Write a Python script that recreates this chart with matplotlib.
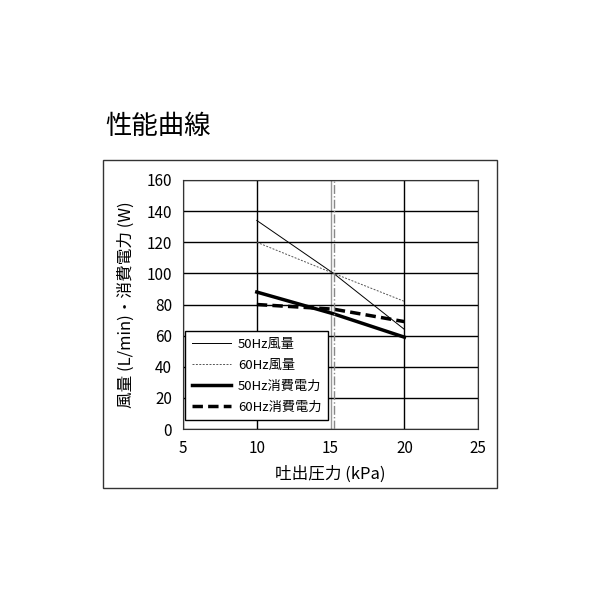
import matplotlib.pyplot as plt
from matplotlib.patches import Rectangle

plt.rcParams['font.family'] = ['Noto Sans CJK JP', 'DejaVu Sans']

# Data
pressure = [10, 15.2, 20]
air_50 = [134, 100, 64]
air_60 = [120, 100, 82]
power_50 = [88, 74, 59]
power_60 = [80, 77, 69]
ref_pressure = 15.2

fig = plt.figure(figsize=(6, 6), dpi=100)
ax = fig.add_axes([0.305, 0.285, 0.492, 0.415])

# outer frame
fig.patches.append(Rectangle((0.172, 0.187), 0.656, 0.546, transform=fig.transFigure,
                             fill=False, edgecolor='#333333', lw=1.0))

fig.text(0.175, 0.79, '性能曲線', fontsize=19, va='center', ha='left')

ax.plot(pressure, air_50, color='black', lw=0.7, label='50Hz風量')
ax.plot(pressure, air_60, color='#555555', lw=0.7, ls=(0, (2, 1.5)), label='60Hz風量')
ax.plot(pressure, power_50, color='black', lw=2.5, label='50Hz消費電力')
ax.plot(pressure, power_60, color='black', lw=2.5, ls=(0, (3, 1.5)), label='60Hz消費電力')
ax.axvline(ref_pressure, color='#888888', lw=1.0, ls='-.')

ax.set_xlim(5, 25)
ax.set_ylim(0, 160)
ax.set_xticks([5, 10, 15, 20, 25])
ax.set_yticks(range(0, 161, 20))
ax.grid(True, color='black', lw=1.0)
ax.set_axisbelow(True)
# the 15 kPa grid line is grey in the original
ax.get_xgridlines()[2].set_color('#999999')
ax.tick_params(length=0, labelsize=11, pad=8)
for s in ax.spines.values():
    s.set_color('#333333')

ax.set_xlabel('吐出圧力 (kPa)', fontsize=12, labelpad=6)
ax.set_ylabel('風量 (L/min)・消費電力 (W)', fontsize=12, labelpad=8)

leg = ax.legend(loc='lower left', bbox_to_anchor=(0.007, 0.035), borderaxespad=0,
                fontsize=9.5, fancybox=False, framealpha=1, edgecolor='black',
                handlelength=3.0, handletextpad=0.5, borderpad=0.5, labelspacing=0.6)
leg.get_frame().set_linewidth(1.0)

fig.savefig('out.png', dpi=100)
